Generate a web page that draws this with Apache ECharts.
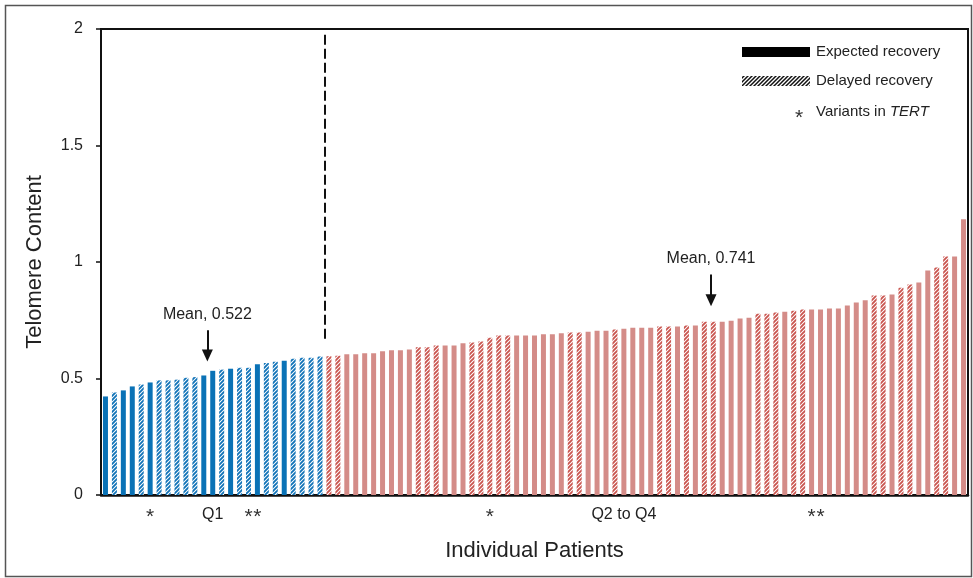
<!DOCTYPE html>
<html><head><meta charset="utf-8">
<script src="https://cdn.jsdelivr.net/npm/echarts@6/dist/echarts.min.js"></script>
<style>html,body{margin:0;padding:0;background:#fff}#c{width:973px;height:578px}</style>
</head><body><div id="c"></div>
<script>
// Telomere content per patient, sorted ascending
const telomere = [
  0.423, 0.440, 0.449, 0.466, 0.474, 0.483, 0.492, 0.492, 0.495, 0.503,
  0.506, 0.513, 0.533, 0.538, 0.542, 0.546, 0.546, 0.561, 0.566, 0.572,
  0.576, 0.585, 0.589, 0.589, 0.594,
  0.595, 0.598, 0.604, 0.604, 0.608, 0.608, 0.617, 0.621, 0.621, 0.625,
  0.634, 0.634, 0.642, 0.642, 0.642, 0.651, 0.655, 0.659, 0.675, 0.685,
  0.685, 0.685, 0.685, 0.685, 0.690, 0.690, 0.694, 0.697,
  0.697, 0.701, 0.705, 0.705, 0.710, 0.714, 0.718, 0.718, 0.718, 0.723,
  0.723, 0.723, 0.727, 0.727, 0.744, 0.744, 0.744, 0.748, 0.757, 0.761,
  0.778, 0.778, 0.783,
  0.787, 0.791, 0.796, 0.796, 0.796, 0.800, 0.800, 0.813, 0.826, 0.836,
  0.856, 0.856, 0.860, 0.890, 0.903, 0.912, 0.963, 0.976, 1.024, 1.024,
  1.183
];
// E = expected recovery (solid), D = delayed recovery (hatched)
const recovery = (
  'EDEEDEDDDDDEEDEDDEDDEDDDD' +
  'DDEEEEEEEEDDDEEEDDDDDEEEEEED' +
  'DEEEDEEEEDDEDEDDEEEEDDD' +
  'EDDEEEEEEEDDEDDEEDDEE'
).split('');
const variantPatients = [6, 17, 18, 44, 80, 81];   // * Variants in TERT
const q1Count = 25;
const groupLabels = [{ patient: 13, text: 'Q1' }, { patient: 59, text: 'Q2 to Q4' }];
const meanNotes = [
  { text: 'Mean, 0.522', patient: 12.4, tail: 0.707, tip: 0.599 },
  { text: 'Mean, 0.741', patient: 68.75, tail: 0.946, tip: 0.836 }
];
const divider = { patient: 25.5, from: 1.975, to: 0.667 };
const categories = telomere.map((_, i) => String(i + 1));

const COLORS = { q1: '#0a72b6', rest: '#d48c88' };
const HATCH = { q1: '#1173b8', rest: '#c9554f', black: '#111111' };

function hatch(color, lw) {
  const c = document.createElement('canvas');
  c.width = 4; c.height = 4;
  const g = c.getContext('2d');
  g.fillStyle = '#ffffff'; g.fillRect(0, 0, 4, 4);
  g.strokeStyle = color; g.lineWidth = lw;
  g.beginPath();
  g.moveTo(0, 4); g.lineTo(4, 0);
  g.moveTo(-1, 1); g.lineTo(1, -1);
  g.moveTo(3, 5); g.lineTo(5, 3);
  g.stroke();
  return c;
}
const patterns = { q1: hatch(HATCH.q1, 1.9), rest: hatch(HATCH.rest, 1.9), black: hatch(HATCH.black, 1.5) };

const FONT = '"Liberation Sans", Arial, sans-serif';

const barData = telomere.map((v, i) => {
  const grp = i < q1Count ? 'q1' : 'rest';
  return {
    value: v,
    itemStyle: { color: recovery[i] === 'E' ? COLORS[grp] : { image: patterns[grp], repeat: 'repeat' } }
  };
});

const chart = echarts.init(document.getElementById('c'), null, { renderer: 'canvas' });
chart.setOption({
  animation: false,
  backgroundColor: '#fff',
  textStyle: { fontFamily: FONT },
  grid: { left: 101, right: 5, top: 29, bottom: 83, show: true, borderColor: '#111', borderWidth: 2, backgroundColor: 'transparent' },
  xAxis: [{
    type: 'category',
    data: categories,
    name: 'Individual Patients',
    nameLocation: 'middle',
    nameGap: 45,
    nameTextStyle: { fontSize: 22, color: '#222', fontFamily: FONT },
    axisLine: { lineStyle: { color: '#111', width: 2.5 } },
    axisTick: { show: false },
    axisLabel: {
      interval: 0,
      margin: 12,
      color: '#222',
      fontSize: 16,
      fontFamily: FONT,
      formatter: (val, idx) => {
        const p = idx + 1;
        const g = groupLabels.find(x => x.patient === p);
        if (g) return g.text;
        if (variantPatients.includes(p)) return '{a|*}';
        return '';
      },
      rich: { a: { fontSize: 21, color: '#333', padding: [0, 0, 0, 0], fontFamily: FONT } }
    }
  }, {
    type: 'value', min: 0.5, max: 97.5, show: false
  }],
  yAxis: {
    type: 'value',
    min: 0, max: 2, interval: 0.5,
    name: 'Telomere Content',
    nameLocation: 'middle',
    nameGap: 55,
    nameTextStyle: { fontSize: 22, color: '#222', fontFamily: FONT },
    axisLine: { show: true, lineStyle: { color: '#111', width: 2 } },
    axisTick: { show: true, length: 5, lineStyle: { color: '#111', width: 1.5 } },
    axisLabel: { color: '#222', fontSize: 16, margin: 18, fontFamily: FONT, formatter: v => String(v) },
    splitLine: { show: false }
  },
  series: [{
    type: 'bar',
    data: barData,
    barWidth: 5,
    silent: true
  }, {
    type: 'line',
    xAxisIndex: 1,
    data: [[divider.patient, divider.to]],
    symbol: 'none',
    silent: true,
    lineStyle: { width: 0 },
    markLine: {
      silent: true,
      animation: false,
      data: [
        [{ coord: [divider.patient, divider.from], symbol: 'none', lineStyle: { type: [10, 4], width: 2, color: '#111' }, label: { show: false } },
         { coord: [divider.patient, divider.to], symbol: 'none' }]
      ].concat(meanNotes.map(m => [
        { coord: [m.patient, m.tail], symbol: 'none',
          lineStyle: { type: 'solid', width: 2, color: '#111' },
          label: { show: true, position: 'start', formatter: m.text, distance: 8, color: '#222', fontSize: 16, fontFamily: FONT } },
        { coord: [m.patient, m.tip], symbol: 'triangle', symbolSize: [11, 12] }
      ]))
    }
  }],
  graphic: [
    { type: 'rect', shape: { x: 5.5, y: 5.5, width: 966, height: 571 }, style: { fill: 'none', stroke: '#555', lineWidth: 1.5 }, silent: true },
    { type: 'rect', shape: { x: 742, y: 47, width: 68, height: 10 }, style: { fill: '#000' }, silent: true },
    { type: 'text', x: 816, y: 52, style: { text: 'Expected recovery', fill: '#222', fontSize: 15, fontFamily: FONT, verticalAlign: 'middle' }, silent: true },
    { type: 'rect', shape: { x: 742, y: 76, width: 68, height: 10 }, style: { fill: { image: patterns.black, repeat: 'repeat' } }, silent: true },
    { type: 'text', x: 816, y: 81, style: { text: 'Delayed recovery', fill: '#222', fontSize: 15, fontFamily: FONT, verticalAlign: 'middle' }, silent: true },
    { type: 'text', x: 799, y: 118, style: { text: '*', fill: '#333', fontSize: 21, fontFamily: FONT, align: 'center', verticalAlign: 'middle' }, silent: true },
    { type: 'text', x: 816, y: 112, style: { text: 'Variants in {i|TERT}', fill: '#222', fontSize: 15, fontFamily: FONT, verticalAlign: 'middle',
      rich: { i: { fontStyle: 'italic', fontSize: 15, fill: '#222', fontFamily: FONT } } }, silent: true }
  ]
});
</script>
</body></html>
